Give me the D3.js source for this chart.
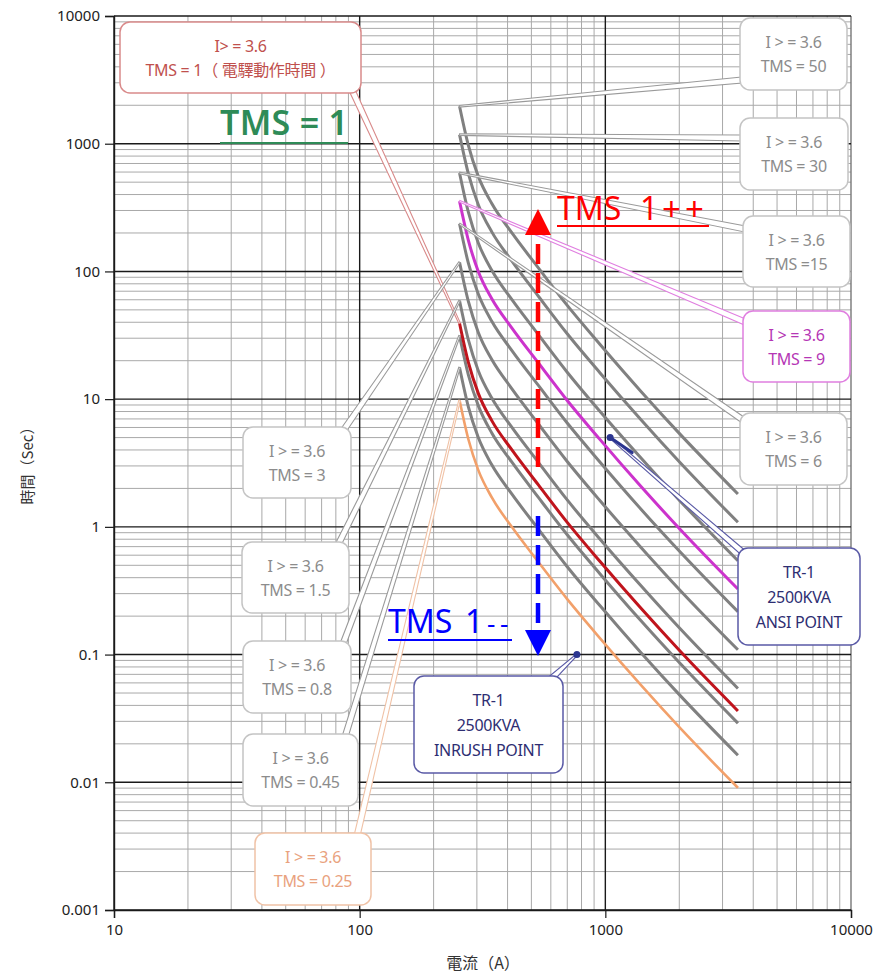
<!DOCTYPE html>
<html>
<head>
<meta charset="utf-8">
<script src="https://cdn.jsdelivr.net/npm/d3@7"></script>
<style>
  body { margin: 0; background: #fff; }
  svg { display: block; font-family: "Noto Sans", "Open Sans", "Noto Sans CJK TC", sans-serif; }
</style>
</head>
<body>
<svg id="chart" width="875" height="977"></svg>
<script>
// current (A) at which the curves were read
const currents = [255, 277, 304, 345, 416, 534, 697, 952, 1400, 2018, 3465];

// operating time (sec), I> = 3.6
const tms50  = [1965, 970, 555, 340, 201, 106.5, 54.7, 26.8, 11.45, 5.3, 1.81];
const tms30  = [1179, 582, 333, 204, 121, 63.9, 32.8, 16.05, 6.87, 3.18, 1.086];
const tms15  = [590, 291, 167, 102, 60.3, 32, 16.4, 8.0, 3.44, 1.59, 0.543];
const tms9   = [354, 175, 100, 61.1, 36.2, 19.2, 9.85, 4.82, 2.06, 0.954, 0.326];
const tms6   = [236, 116, 66.6, 40.7, 24.1, 12.8, 6.56, 3.21, 1.37, 0.636, 0.217];
const tms3   = [118, 58.2, 33.3, 20.4, 12.1, 6.39, 3.28, 1.6, 0.687, 0.318, 0.109];
const tms1_5 = [59, 29.1, 16.7, 10.2, 6.03, 3.2, 1.64, 0.8, 0.344, 0.159, 0.0543];
const tms1   = [39.3, 19.4, 11.1, 6.79, 4.02, 2.13, 1.094, 0.535, 0.229, 0.106, 0.0362];
const tms0_8 = [31.4, 15.5, 8.9, 5.43, 3.22, 1.7, 0.875, 0.428, 0.183, 0.085, 0.029];
const tms0_45 = [17.7, 8.7, 5.0, 3.06, 1.81, 0.96, 0.492, 0.241, 0.103, 0.0477, 0.0163];
const tms0_25 = [9.8, 4.85, 2.78, 1.7, 1.0, 0.53, 0.274, 0.134, 0.0573, 0.0265, 0.00905];

// transformer points
const ansiPoint = [1046, 5.0];
const inrushPoint = [766, 0.1];

// tick labels
const xTicks = [10, 100, 1000, 10000];
const yTicks = [0.001, 0.01, 0.1, 1, 10, 100, 1000, 10000];

const svg = d3.select("#chart");
const mLeft = 114, mRight = 851, mTop = 16, mBottom = 910;

const x = d3.scaleLog().domain([10, 10000]).range([mLeft, mRight]);
const y = d3.scaleLog().domain([0.001, 10000]).range([mBottom, mTop]);

// grid
const grid = svg.append("g");
const minorX = [], minorY = [];
for (let d = 10; d < 10000; d *= 10) for (let k = 2; k <= 9; k++) minorX.push(d * k);
for (let d = 0.001; d < 9999; d *= 10) for (let k = 2; k <= 9; k++) minorY.push(+(d * k).toPrecision(3));

grid.selectAll(".mx").data(minorX).enter().append("line")
    .attr("x1", d => x(d)).attr("x2", d => x(d))
    .attr("y1", mTop).attr("y2", mBottom)
    .attr("stroke", "#a9a9a9").attr("stroke-width", 1);
grid.selectAll(".my").data(minorY).enter().append("line")
    .attr("x1", mLeft).attr("x2", mRight)
    .attr("y1", d => y(d)).attr("y2", d => y(d))
    .attr("stroke", "#a9a9a9").attr("stroke-width", 1);
grid.selectAll(".Mx").data(xTicks).enter().append("line")
    .attr("x1", d => x(d)).attr("x2", d => x(d))
    .attr("y1", mTop).attr("y2", mBottom)
    .attr("stroke", d => d === 10000 ? "#777" : "#1a1a1a").attr("stroke-width", 1.4);
grid.selectAll(".My").data(yTicks).enter().append("line")
    .attr("x1", mLeft).attr("x2", mRight)
    .attr("y1", d => y(d)).attr("y2", d => y(d))
    .attr("stroke", "#1a1a1a").attr("stroke-width", 1.4);

// axes
const xAxis = d3.axisBottom(x).tickValues(xTicks).tickFormat(d3.format("d")).tickSize(8).tickPadding(6);
const yAxis = d3.axisLeft(y).tickValues(yTicks).tickFormat(d => String(d)).tickSize(9).tickPadding(5);

const gx = svg.append("g").attr("transform", `translate(0,${mBottom})`).call(xAxis);
const gy = svg.append("g").attr("transform", `translate(${mLeft},0)`).call(yAxis);
[gx, gy].forEach(g => {
    g.select(".domain").attr("stroke", "#1a1a1a").attr("stroke-width", 1.4);
    g.selectAll(".tick line").attr("stroke", "#1a1a1a").attr("stroke-width", 1.2);
    g.selectAll(".tick text").attr("fill", "#222").style("font-size", "15px")
        .style("font-family", "'Noto Sans', sans-serif");
});

svg.append("text")
    .attr("transform", "translate(33,462) rotate(-90)")
    .attr("text-anchor", "middle")
    .attr("fill", "#333").style("font-size", "15px")
    .style("font-family", "'Noto Sans CJK TC', 'Noto Sans', sans-serif")
    .text("時間（Sec）");
svg.append("text")
    .attr("x", 483).attr("y", 969)
    .attr("text-anchor", "middle")
    .attr("fill", "#333").style("font-size", "16px")
    .style("font-family", "'Noto Sans CJK TC', 'Noto Sans', sans-serif")
    .text("電流（A）");

// curves
const curves = [
    { tms: "50", t: tms50, color: "#808080", w: 3 },
    { tms: "30", t: tms30, color: "#808080", w: 3 },
    { tms: "15", t: tms15, color: "#808080", w: 3 },
    { tms: "6", t: tms6, color: "#808080", w: 3 },
    { tms: "3", t: tms3, color: "#808080", w: 3 },
    { tms: "1.5", t: tms1_5, color: "#808080", w: 3 },
    { tms: "0.8", t: tms0_8, color: "#808080", w: 3 },
    { tms: "0.45", t: tms0_45, color: "#808080", w: 3 },
    { tms: "9", t: tms9, color: "#cc33cc", w: 3 },
    { tms: "1", t: tms1, color: "#c0141c", w: 3 },
    { tms: "0.25", t: tms0_25, color: "#f2a06a", w: 2.6 }
];

const line = d3.line()
    .x(d => x(d[0]))
    .y(d => y(d[1]))
    .curve(d3.curveMonotoneX);

svg.append("g").selectAll("path").data(curves).enter().append("path")
    .attr("fill", "none")
    .attr("stroke", d => d.color)
    .attr("stroke-width", d => d.w)
    .attr("stroke-linejoin", "round")
    .attr("d", d => line(currents.map((c, i) => [c, d.t[i]])));

// callouts: box in pixels, leader to curve start or to a point
const peak = t => [x(currents[0]), y(t[0])];
const callouts = [
    { lines: ["I> = 3.6", "TMS = 1（ 電驛動作時間 ）"], box: [120, 22, 241, 71], from: [352, 90], to: peak(tms1), text: "#c0504d", stroke: "#d98a8a" },
    { lines: ["I > = 3.6", "TMS = 50"], box: [740, 18, 107, 72], from: [742, 80], to: peak(tms50), text: "#8c8c8c", stroke: "#c4c4c4" },
    { lines: ["I > = 3.6", "TMS = 30"], box: [740, 118, 108, 72], from: [742, 138], to: peak(tms30), text: "#8c8c8c", stroke: "#c4c4c4" },
    { lines: ["I > = 3.6", "TMS =15"], box: [743, 216, 107, 71], from: [745, 229], to: peak(tms15), text: "#8c8c8c", stroke: "#c4c4c4" },
    { lines: ["I > = 3.6", "TMS = 9"], box: [743, 311, 107, 71], from: [745, 322], to: peak(tms9), text: "#b536b5", stroke: "#e07fe0" },
    { lines: ["I > = 3.6", "TMS = 6"], box: [740, 413, 107, 72], from: [743, 420], to: peak(tms6), text: "#8c8c8c", stroke: "#c4c4c4" },
    { lines: ["I > = 3.6", "TMS = 3"], box: [243, 427, 108, 71], from: [343, 431], to: peak(tms3), text: "#8c8c8c", stroke: "#c4c4c4" },
    { lines: ["I > = 3.6", "TMS = 1.5"], box: [242, 542, 107, 71], from: [338, 545], to: peak(tms1_5), text: "#8c8c8c", stroke: "#c4c4c4" },
    { lines: ["I > = 3.6", "TMS = 0.8"], box: [243, 641, 108, 72], from: [343, 644], to: peak(tms0_8), text: "#8c8c8c", stroke: "#c4c4c4" },
    { lines: ["I > = 3.6", "TMS = 0.45"], box: [243, 734, 115, 72], from: [345, 737], to: peak(tms0_45), text: "#8c8c8c", stroke: "#c4c4c4" },
    { lines: ["I > = 3.6", "TMS = 0.25"], box: [255, 833, 116, 72], from: [357, 836], to: peak(tms0_25), text: "#e9a27e", stroke: "#f0c2a6" },
    { lines: ["TR-1", "2500KVA", "ANSI POINT"], box: [738, 548, 122, 97], from: [747, 556], to: [x(ansiPoint[0]), y(ansiPoint[1])], text: "#2e2e72", stroke: "#5a5aa6" },
    { lines: ["TR-1", "2500KVA", "INRUSH POINT"], box: [414, 676, 149, 97], from: [552, 678], to: [x(inrushPoint[0]), y(inrushPoint[1])], text: "#2e2e72", stroke: "#5a5aa6" }
];

const leaders = svg.append("g");
callouts.forEach(c => {
    const [x0, y0] = c.from, [x1, y1] = c.to;
    const len = Math.hypot(x1 - x0, y1 - y0);
    const nx = -(y1 - y0) / len, ny = (x1 - x0) / len;
    const hw = 3, tw = 0.8;
    const pts = [
        [x0 + nx * hw, y0 + ny * hw], [x1 + nx * tw, y1 + ny * tw],
        [x1 - nx * tw, y1 - ny * tw], [x0 - nx * hw, y0 - ny * hw]
    ];
    leaders.append("polygon")
        .attr("points", pts.map(p => p.join(",")).join(" "))
        .attr("fill", "#fff")
        .attr("stroke", c.stroke === "#c4c4c4" ? "#9a9a9a" : c.stroke)
        .attr("stroke-width", 1.1);
});

// ANSI point: short thick mark on its leader, and both dots
const ap = [x(ansiPoint[0]), y(ansiPoint[1])];
svg.append("line")
    .attr("x1", ap[0]).attr("y1", ap[1])
    .attr("x2", ap[0] + 22).attr("y2", ap[1] + 15)
    .attr("stroke", "#2b3590").attr("stroke-width", 3).attr("stroke-linecap", "round");
svg.append("g").selectAll("circle").data([ansiPoint, inrushPoint]).enter().append("circle")
    .attr("cx", d => x(d[0])).attr("cy", d => y(d[1])).attr("r", 3.5)
    .attr("fill", "#2b3590");

const boxes = svg.append("g");
callouts.forEach(c => {
    const [bx, by, bw, bh] = c.box;
    boxes.append("rect")
        .attr("x", bx).attr("y", by).attr("width", bw).attr("height", bh)
        .attr("rx", 10).attr("ry", 10)
        .attr("fill", "#fff").attr("stroke", c.stroke).attr("stroke-width", 1.5);
    const lh = c.lines.length === 3 ? 25 : 24;
    const y0 = by + bh / 2 - (c.lines.length - 1) * lh / 2 + 6;
    c.lines.forEach((s, i) => {
        boxes.append("text")
            .attr("x", bx + bw / 2).attr("y", y0 + i * lh)
            .attr("text-anchor", "middle")
            .attr("fill", c.text)
            .style("font-size", "16px")
            .style("font-family", "'Noto Sans', 'Noto Sans CJK TC', sans-serif")
            .style("letter-spacing", "-0.3px")
            .text(s);
    });
});

// annotations: green TMS = 1, red up arrow, blue down arrow
const notes = svg.append("g").style("font-family", "'Noto Sans', sans-serif");

notes.append("text").attr("x", 220).attr("y", 135)
    .attr("fill", "#2e8b57").style("font-size", "34px").style("font-weight", 600)
    .attr("textLength", 128)
    .text("TMS = 1");
notes.append("line").attr("x1", 220).attr("x2", 348).attr("y1", 143).attr("y2", 143)
    .attr("stroke", "#2e8b57").attr("stroke-width", 2);

const upT = notes.append("text").attr("y", 220)
    .attr("fill", "#ff0000").style("font-size", "32px");
upT.append("tspan").attr("x", 557).text("TMS");
upT.append("tspan").attr("x", 640).text("1");
upT.append("tspan").attr("x", 662).attr("dy", 1).style("font-size", "33px").text("+");
upT.append("tspan").attr("x", 685).style("font-size", "33px").text("+");
notes.append("line").attr("x1", 557).attr("x2", 709).attr("y1", 226).attr("y2", 226)
    .attr("stroke", "#ff0000").attr("stroke-width", 2);

const dnT = notes.append("text").attr("y", 633)
    .attr("fill", "#0000ff").style("font-size", "32px");
dnT.append("tspan").attr("x", 388).text("TMS");
dnT.append("tspan").attr("x", 465).text("1");
dnT.append("tspan").attr("x", 487).style("font-size", "26px").text("-");
dnT.append("tspan").attr("x", 500).style("font-size", "26px").text("-");
notes.append("line").attr("x1", 388).attr("x2", 512).attr("y1", 640).attr("y2", 640)
    .attr("stroke", "#0000ff").attr("stroke-width", 2);

// arrows
const ax = 538;
notes.append("line").attr("x1", ax).attr("x2", ax).attr("y1", 467).attr("y2", 234)
    .attr("stroke", "#ff0000").attr("stroke-width", 4.5).attr("stroke-dasharray", "20,9");
notes.append("path").attr("d", `M${ax},209 L${ax - 13},235 L${ax + 13},235 Z`).attr("fill", "#ff0000");

notes.append("line").attr("x1", ax).attr("x2", ax).attr("y1", 516).attr("y2", 630)
    .attr("stroke", "#0000ff").attr("stroke-width", 4.5).attr("stroke-dasharray", "20,9");
notes.append("path").attr("d", `M${ax},656 L${ax - 13},630 L${ax + 13},630 Z`).attr("fill", "#0000ff");
</script>
</body>
</html>
